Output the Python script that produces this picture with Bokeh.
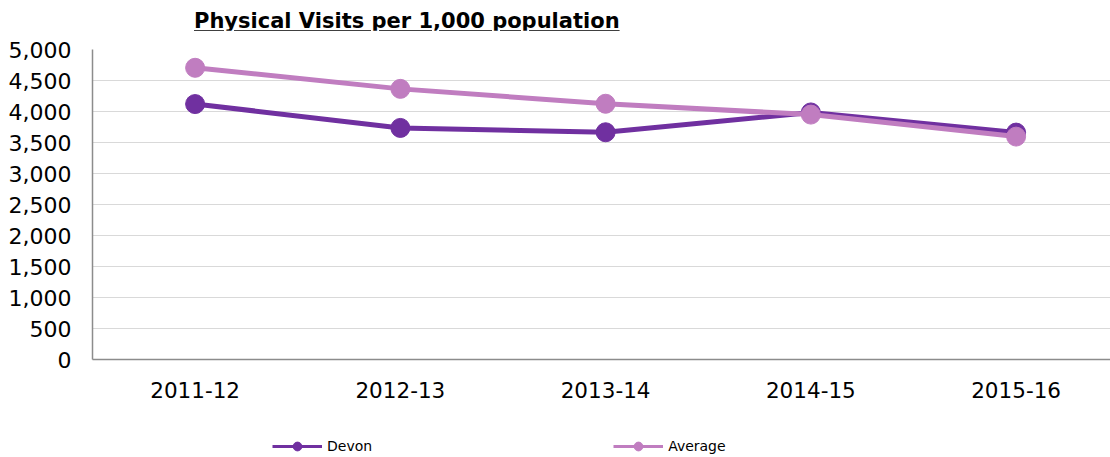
from bokeh.plotting import figure
from bokeh.models import (ColumnDataSource, Div, Legend, LegendItem, NumeralTickFormatter,
                          FixedTicker, Range1d)
from bokeh.layouts import column
from bokeh.embed import file_html
from bokeh.resources import INLINE

# ---- data ----
categories = ["2011-12", "2012-13", "2013-14", "2014-15", "2015-16"]
devon = [4120, 3735, 3665, 3985, 3660]
average = [4705, 4365, 4125, 3950, 3595]
y_ticks = [0, 500, 1000, 1500, 2000, 2500, 3000, 3500, 4000, 4500, 5000]
series_names = ["Devon", "Average"]

idx = list(range(len(categories)))
src = ColumnDataSource(dict(x=idx, devon=devon, average=average))

DEVON_C = "#7030A0"
AVG_C = "#C07DC0"
FONT = "DejaVu Sans"

title = Div(
    text='<span style="font-family:\'DejaVu Sans\';font-weight:bold;font-size:21px;'
         'text-decoration:underline;color:#000;">Physical Visits per 1,000 population</span>',
    width=1110, height=30, margin=(0, 0, 0, 0),
    styles={"padding-left": "194px", "padding-top": "6px", "box-sizing": "border-box",
            "white-space": "nowrap"},
)

p = figure(width=1110, height=390, output_backend="svg", toolbar_location=None,
           x_range=Range1d(-0.5, 4.46), y_range=Range1d(0, 5000),
           min_border_left=92, min_border_right=0, min_border_top=19, min_border_bottom=61)
p.outline_line_color = None
p.background_fill_color = "white"

p.xgrid.grid_line_color = None
p.ygrid.grid_line_color = "#d9d9d9"
p.ygrid.grid_line_width = 1

p.yaxis.ticker = FixedTicker(ticks=y_ticks)
p.yaxis.formatter = NumeralTickFormatter(format="0,0")
p.xaxis.ticker = FixedTicker(ticks=idx)
p.xaxis.major_label_overrides = {i: c for i, c in zip(idx, categories)}

for ax in (p.xaxis[0], p.yaxis[0]):
    ax.axis_line_color = "#8c8c8c"
    ax.axis_line_width = 1.5
    ax.major_tick_line_color = None
    ax.minor_tick_line_color = None
    ax.major_label_text_font = FONT
    ax.major_label_text_color = "#000000"
p.yaxis.major_label_text_font_size = "22px"
p.yaxis.major_label_standoff = 15
p.xaxis.major_label_text_font_size = "21.5px"
p.xaxis.major_label_standoff = 16

p.line("x", "devon", source=src, line_color=DEVON_C, line_width=5)
p.scatter("x", "devon", source=src, size=19, fill_color=DEVON_C, line_color=DEVON_C)
p.line("x", "average", source=src, line_color=AVG_C, line_width=5)
p.scatter("x", "average", source=src, size=19, fill_color=AVG_C, line_color=AVG_C)

# ---- legend strip below the chart (series drawn out of its view; only the legend shows) ----
lf = figure(width=1110, height=37, output_backend="svg", toolbar_location=None,
            x_range=Range1d(-100, -99), y_range=Range1d(-100, -99),
            x_axis_location=None, y_axis_location=None,
            min_border_left=0, min_border_right=0, min_border_top=0, min_border_bottom=0)
lf.grid.visible = False
lf.outline_line_color = None

dl = lf.line("x", "devon", source=src, line_color=DEVON_C, line_width=3)
ds = lf.scatter("x", "devon", source=src, size=10, fill_color=DEVON_C, line_color=DEVON_C)
al = lf.line("x", "average", source=src, line_color=AVG_C, line_width=3)
a_s = lf.scatter("x", "average", source=src, size=10, fill_color=AVG_C, line_color=AVG_C)

legend = Legend(items=[LegendItem(label=series_names[0], renderers=[dl, ds]),
                       LegendItem(label=series_names[1], renderers=[al, a_s])],
                orientation="horizontal", location=(180, 0),
                glyph_width=50, glyph_height=22, label_standoff=5, spacing=241,
                padding=0, margin=0, border_line_color=None, background_fill_alpha=0,
                label_text_font=FONT, label_text_font_size="14px", label_text_color="#000000")
lf.add_layout(legend, "center")

layout = column(title, p, lf, spacing=0)
open("out.html", "w").write(file_html(layout, INLINE))
